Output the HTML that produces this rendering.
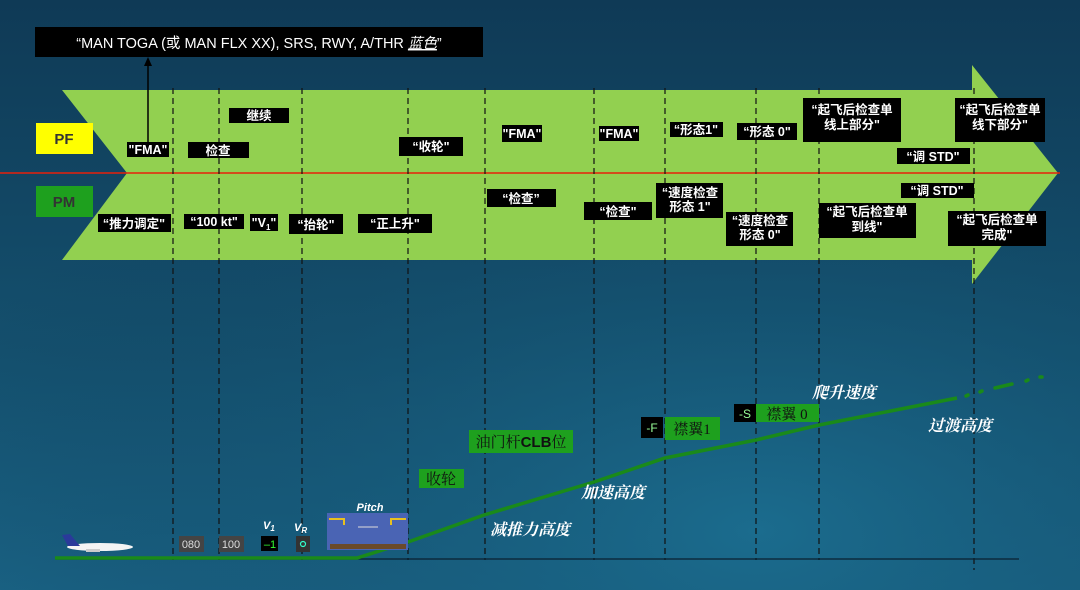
<!DOCTYPE html>
<html><head><meta charset="utf-8"><style>
html,body{margin:0;padding:0;}
body{width:1080px;height:590px;overflow:hidden;background:linear-gradient(180deg,#0f3a56 0%,#14506e 60%,#1a6486 100%);}
svg{display:block;font-family:"Liberation Sans","Noto Sans CJK SC",sans-serif;}
.w{fill:#fff;font-weight:bold;font-size:12.5px;text-anchor:middle;}
.it{fill:#fff;font-style:italic;font-weight:bold;font-size:16px;font-family:"Liberation Serif","Noto Serif CJK SC",serif;}
.g{fill:#111;font-size:15px;text-anchor:middle;font-family:"Liberation Serif","Noto Serif CJK SC",serif;}
</style></head><body>
<svg width="1080" height="590" viewBox="0 0 1080 590">
<defs><radialGradient id="bg" cx="0.7" cy="0.9" r="0.8"><stop offset="0" stop-color="#1b6c8e"/><stop offset="1" stop-color="#0f3e5a" stop-opacity="0"/></radialGradient></defs>
<rect width="1080" height="590" fill="url(#bg)"/>
<polygon points="62,90 972,90 972,65 1058,173 972,284 972,260 62,260 127,173" fill="#92d050"/>
<line x1="0" y1="173" x2="1060" y2="173" stroke="#e8200a" stroke-width="1.5"/>
<g stroke="#111" stroke-width="1.2" stroke-dasharray="6,4">
<line x1="173" y1="88" x2="173" y2="560"/><line x1="219" y1="88" x2="219" y2="560"/>
<line x1="302" y1="88" x2="302" y2="560"/><line x1="408" y1="88" x2="408" y2="560"/>
<line x1="485" y1="88" x2="485" y2="560"/><line x1="594" y1="88" x2="594" y2="560"/>
<line x1="665" y1="88" x2="665" y2="560"/><line x1="756" y1="88" x2="756" y2="560"/>
<line x1="819" y1="88" x2="819" y2="560"/><line x1="974" y1="88" x2="974" y2="570"/>
</g>
<rect x="35" y="27" width="448" height="30" fill="#000"/>
<text x="259" y="48" fill="#fff" font-size="14.5" text-anchor="middle">“MAN TOGA (或 MAN FLX XX), SRS, RWY, A/THR <tspan font-style="italic" text-decoration="underline">蓝色</tspan>”</text>
<line x1="148" y1="142" x2="148" y2="64" stroke="#000" stroke-width="1.5"/>
<polygon points="148,57 144,66 152,66" fill="#000"/>
<rect x="36" y="123" width="57" height="31" fill="#ffff00"/>
<text x="64" y="144" font-size="15" font-weight="bold" fill="#333" text-anchor="middle">PF</text>
<rect x="36" y="186" width="57" height="31" fill="#1ea01e"/>
<text x="64" y="207" font-size="15" font-weight="bold" fill="#333" text-anchor="middle">PM</text>
<g fill="#000">
<rect x="127" y="142" width="42" height="15"/><rect x="188" y="142" width="61" height="16"/>
<rect x="229" y="108" width="60" height="15"/><rect x="98" y="214" width="73" height="18"/>
<rect x="184" y="214" width="60" height="15"/><rect x="250" y="214" width="28" height="17"/>
<rect x="289" y="214" width="54" height="20"/><rect x="358" y="214" width="74" height="19"/>
<rect x="399" y="137" width="64" height="19"/><rect x="502" y="125" width="40" height="17"/>
<rect x="599" y="126" width="40" height="15"/><rect x="670" y="122" width="53" height="15"/>
<rect x="737" y="123" width="60" height="17"/><rect x="803" y="98" width="98" height="44"/>
<rect x="955" y="98" width="90" height="44"/><rect x="897" y="148" width="73" height="16"/>
<rect x="901" y="183" width="73" height="15"/><rect x="487" y="189" width="69" height="18"/>
<rect x="584" y="202" width="68" height="18"/><rect x="656" y="183" width="67" height="35"/>
<rect x="726" y="212" width="67" height="34"/><rect x="819" y="203" width="97" height="35"/>
<rect x="948" y="211" width="98" height="35"/>
</g>
<g class="w">
<text x="148" y="154">"FMA"</text><text x="218" y="155">检查</text><text x="259" y="120">继续</text>
<text x="134" y="228">“推力调定"</text><text x="214" y="226">“100 kt"</text><text x="264" y="227">"V<tspan font-size="8" dy="3">1</tspan><tspan dy="-3">"</tspan></text>
<text x="316" y="229">“抬轮"</text><text x="395" y="228">“正上升"</text><text x="431" y="151">“收轮"</text>
<text x="522" y="138">"FMA"</text><text x="619" y="138">"FMA"</text><text x="696" y="134">“形态1"</text>
<text x="767" y="136">“形态 0"</text><text x="852" y="114">“起飞后检查单</text><text x="852" y="129">线上部分"</text>
<text x="1000" y="114">“起飞后检查单</text><text x="1000" y="129">线下部分"</text>
<text x="933" y="161">“调 STD"</text><text x="937" y="195">“调 STD"</text>
<text x="521" y="203">“检查”</text><text x="618" y="216">“检查"</text>
<text x="690" y="197">“速度检查</text><text x="690" y="211">形态 1"</text>
<text x="760" y="225">“速度检查</text><text x="760" y="239">形态 0"</text>
<text x="867" y="216">“起飞后检查单</text><text x="867" y="231">到线"</text>
<text x="997" y="224">“起飞后检查单</text><text x="997" y="239">完成"</text>
</g>
<line x1="55" y1="559" x2="1019" y2="559" stroke="#0a2030" stroke-width="1.2"/>
<polyline points="55,558 357,558 408,542 484,515 594,482 665,458 756,440 819,425 957,398" fill="none" stroke="#1a8a1a" stroke-width="3.5"/>
<g stroke="#1a8a1a" stroke-width="3.5" stroke-linecap="round">
<line x1="966" y1="396" x2="968" y2="395"/><line x1="980" y1="392" x2="982" y2="391"/>
<line x1="995" y1="388" x2="1012" y2="384"/><line x1="1026" y1="381" x2="1028" y2="380"/><line x1="1040" y1="377" x2="1042" y2="377"/>
</g>
<rect x="419" y="469" width="45" height="19" fill="#1ea01e"/><text class="g" x="441" y="484">收轮</text>
<rect x="469" y="430" width="104" height="23" fill="#1ea01e"/><text class="g" x="521" y="447">油门杆<tspan font-family="Liberation Sans" font-weight="bold">CLB</tspan>位</text>
<rect x="641" y="417" width="22" height="21" fill="#000"/><text x="652" y="432" fill="#9f9" font-size="12" text-anchor="middle">-F</text>
<rect x="665" y="417" width="55" height="23" fill="#1ea01e"/><text class="g" x="692" y="434">襟翼1</text>
<rect x="734" y="404" width="22" height="18" fill="#000"/><text x="745" y="418" fill="#9f9" font-size="12" text-anchor="middle">-S</text>
<rect x="756" y="404" width="63" height="18" fill="#1ea01e"/><text class="g" x="787" y="419">襟翼 0</text>
<text class="it" x="812" y="398">爬升速度</text><text class="it" x="928" y="431">过渡高度</text>
<text class="it" x="581" y="498">加速高度</text><text class="it" x="490" y="535">减推力高度</text>
<g>
<ellipse cx="100" cy="547" rx="33" ry="4" fill="#f4f4f4"/>
<polygon points="62,535 70,534 80,546 68,546" fill="#2a3a9a"/>
<rect x="86" y="549" width="14" height="3" fill="#ccc"/>
</g>
<rect x="179" y="536" width="25" height="16" fill="#444"/><text x="191" y="548" fill="#ddd" font-size="11" text-anchor="middle">080</text>
<rect x="219" y="536" width="25" height="16" fill="#444"/><text x="231" y="548" fill="#ddd" font-size="11" text-anchor="middle">100</text>
<text x="263" y="529" fill="#fff" font-size="11" font-weight="bold" font-style="italic">V<tspan font-size="8" dy="2">1</tspan></text>
<rect x="261" y="536" width="17" height="15" fill="#000"/><text x="270" y="548" fill="#3f3" font-size="11" text-anchor="middle">–1</text>
<text x="294" y="531" fill="#fff" font-size="11" font-weight="bold" font-style="italic">V<tspan font-size="8" dy="2">R</tspan></text>
<rect x="296" y="536" width="14" height="16" fill="#333"/><circle cx="303" cy="544" r="2.5" fill="none" stroke="#3fc" stroke-width="1.2"/>
<text x="370" y="511" fill="#fff" font-size="11" font-weight="bold" font-style="italic" text-anchor="middle">Pitch</text>
<rect x="327" y="513" width="81" height="37" fill="#4a64b4"/>
<rect x="330" y="544" width="76" height="5" fill="#6a4a2a"/>
<polyline points="329,519 344,519 344,525" fill="none" stroke="#e8c020" stroke-width="2"/>
<polyline points="406,519 391,519 391,525" fill="none" stroke="#e8c020" stroke-width="2"/>
<line x1="358" y1="527" x2="378" y2="527" stroke="#ddd"/>
</svg>
</body></html>
